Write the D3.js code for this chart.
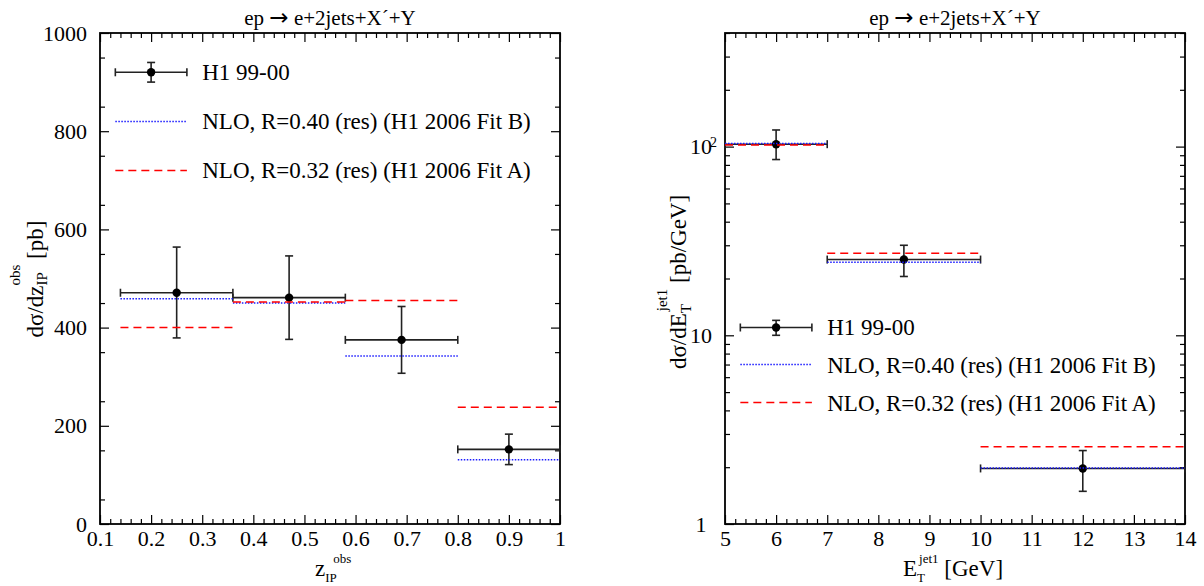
<!DOCTYPE html>
<html>
<head>
<meta charset="utf-8">
<script src="https://cdn.jsdelivr.net/npm/d3@7"></script>
<style>
  body { margin: 0; background: #fff; }
  svg { display: block; }
</style>
</head>
<body>
<div id="chart"></div>
<script>
// ---- left panel: d(sigma)/dz_IP ----
const zBinLo  = [0.14, 0.36, 0.58, 0.80];
const zBinHi  = [0.36, 0.58, 0.80, 1.00];
const zCenter = [0.25, 0.47, 0.69, 0.90];
const zData   = [471, 461, 375, 152];
const zErrHi  = [564, 546, 443, 183];
const zErrLo  = [379, 376, 307, 121];
const zFitB   = [459, 450, 342, 131];   // NLO R=0.40, blue dotted
const zFitA   = [400, 452, 455, 238];   // NLO R=0.32, red dashed
const zTicks  = [0.1, 0.2, 0.3, 0.4, 0.5, 0.6, 0.7, 0.8, 0.9, 1.0];
const zTickLabels = ['0.1', '0.2', '0.3', '0.4', '0.5', '0.6', '0.7', '0.8', '0.9', '1'];
const zYTicks = [0, 200, 400, 600, 800, 1000];

// ---- right panel: d(sigma)/dE_T ----
const etBinLo  = [5, 7, 10];
const etBinHi  = [7, 10, 14];
const etCenter = [6, 8.5, 12];
const etData   = [103, 25.2, 1.97];
const etErrHi  = [122.5, 30, 2.45];
const etErrLo  = [85.4, 20.5, 1.49];
const etFitB   = [104, 24.4, 1.98];
const etFitA   = [102, 27.2, 2.57];
const etTicks  = [5, 6, 7, 8, 9, 10, 11, 12, 13, 14];
const etYTicks = [1, 10, 100];

const legendLabels = ['H1 99-00', 'NLO, R=0.40 (res) (H1 2006 Fit B)', 'NLO, R=0.32 (res) (H1 2006 Fit A)'];
const titleParts = ['ep ', '\u2192', ' e+2jets+X\u00b4+Y'];

const FONT = '"Liberation Serif", "Times New Roman", Times, serif';
const W = 1204, H = 586;
const plotTop = 33, plotH = 491, plotW = 460;

const svg = d3.select('#chart').append('svg')
    .attr('width', W)
    .attr('height', H)
    .style('font-family', FONT);

// ticks on all four sides pointing inward, frame around
function frameAxes(g, x, y, o) {
    const maj = 9, min = 5;
    const axes = [
        [d3.axisBottom(x).tickValues(o.xMajor).tickSize(-maj).tickPadding(6).tickFormat(o.xFmt), `translate(0,${plotH})`],
        [d3.axisBottom(x).tickValues(o.xMinor).tickSize(-min).tickFormat(''), `translate(0,${plotH})`],
        [d3.axisTop(x).tickValues(o.xMajor).tickSize(-maj).tickFormat(''), null],
        [d3.axisTop(x).tickValues(o.xMinor).tickSize(-min).tickFormat(''), null],
        [d3.axisLeft(y).tickValues(o.yMajor).tickSize(-maj).tickPadding(13).tickFormat(o.yFmt), null],
        [d3.axisLeft(y).tickValues(o.yMinor).tickSize(-min).tickFormat(''), null],
        [d3.axisRight(y).tickValues(o.yMajor).tickSize(-maj).tickFormat(''), `translate(${plotW},0)`],
        [d3.axisRight(y).tickValues(o.yMinor).tickSize(-min).tickFormat(''), `translate(${plotW},0)`]
    ];
    const out = [];
    axes.forEach(([ax, tr]) => {
        const a = g.append('g').call(ax)
            .attr('font-family', FONT)
            .attr('font-size', 22)
            .attr('color', '#000');
        if (tr) a.attr('transform', tr);
        a.select('.domain').remove();
        a.selectAll('.tick line').attr('stroke-width', 1.2);
        out.push(a);
    });
    g.append('rect')
        .attr('width', plotW).attr('height', plotH)
        .attr('fill', 'none').attr('stroke', '#000').attr('stroke-width', 1.8);
    return out;
}

function drawPoint(g, x, y, xl, xh, xc, v, eh, el) {
    const c = '#222', cap = 4;
    g.append('line').attr('x1', x(xl)).attr('x2', x(xh)).attr('y1', y(v)).attr('y2', y(v))
        .attr('stroke', c).attr('stroke-width', 1.6);
    [xl, xh].forEach(e => g.append('line')
        .attr('x1', x(e)).attr('x2', x(e)).attr('y1', y(v) - cap).attr('y2', y(v) + cap)
        .attr('stroke', c).attr('stroke-width', 1.6));
    g.append('line').attr('x1', x(xc)).attr('x2', x(xc)).attr('y1', y(eh)).attr('y2', y(el))
        .attr('stroke', c).attr('stroke-width', 1.6);
    [eh, el].forEach(e => g.append('line')
        .attr('x1', x(xc) - cap).attr('x2', x(xc) + cap).attr('y1', y(e)).attr('y2', y(e))
        .attr('stroke', c).attr('stroke-width', 1.6));
    g.append('circle').attr('cx', x(xc)).attr('cy', y(v)).attr('r', 4.2).attr('fill', '#000');
}

const styleB = {stroke: '#1a1aff', dash: '1.5,1.5'};
const styleA = {stroke: '#ff0000', dash: '8,5'};

function drawFit(g, x, y, lo, hi, vals, s) {
    g.selectAll(null).data(vals).enter().append('line')
        .attr('x1', (d, i) => x(lo[i])).attr('x2', (d, i) => x(hi[i]))
        .attr('y1', d => y(d)).attr('y2', d => y(d))
        .attr('stroke', s.stroke).attr('stroke-width', 1.5)
        .attr('stroke-dasharray', s.dash);
}

function drawLegend(g, x, y, o) {
    drawPoint(g, x, y, o.x0, o.x1, o.xm, o.ys[0], o.err[0], o.err[1]);
    [styleB, styleA].forEach((s, i) => {
        g.append('line').attr('x1', x(o.x0)).attr('x2', x(o.x1))
            .attr('y1', y(o.ys[i + 1])).attr('y2', y(o.ys[i + 1]))
            .attr('stroke', s.stroke).attr('stroke-width', 1.5).attr('stroke-dasharray', s.dash);
    });
    legendLabels.forEach((t, i) => {
        g.append('text').attr('x', x(o.xt)).attr('y', y(o.ys[i]) + 8)
            .attr('font-size', 23).text(t);
    });
}

function drawTitle(g) {
    const t = g.append('text').attr('x', plotW / 2).attr('y', -8)
        .attr('text-anchor', 'middle').attr('font-size', 21);
    t.append('tspan').text(titleParts[0]);
    t.append('tspan').attr('font-family', '"DejaVu Sans", sans-serif').attr('font-size', 23).text(titleParts[1]);
    t.append('tspan').text(titleParts[2]);
}

// ===== left panel =====
const gL = svg.append('g').attr('transform', `translate(100,${plotTop})`);
const xL = d3.scaleLinear().domain([0.1, 1]).range([0, plotW]);
const yL = d3.scaleLinear().domain([0, 1000]).range([plotH, 0]);

frameAxes(gL, xL, yL, {
    xMajor: zTicks,
    xMinor: d3.range(5, 51).map(i => i * 0.02).filter(v => Math.abs(v * 10 - Math.round(v * 10)) > 1e-6),
    xFmt: (d, i) => zTickLabels[i],
    yMajor: zYTicks,
    yMinor: d3.range(50, 1000, 100),
    yFmt: d => d
});

zData.forEach((v, i) => drawPoint(gL, xL, yL, zBinLo[i], zBinHi[i], zCenter[i], v, zErrHi[i], zErrLo[i]));
drawFit(gL, xL, yL, zBinLo, zBinHi, zFitB, styleB);
drawFit(gL, xL, yL, zBinLo, zBinHi, zFitA, styleA);
drawLegend(gL, xL, yL, {x0: 0.13, x1: 0.27, xm: 0.2, xt: 0.3, ys: [920, 820, 720], err: [940, 900]});
drawTitle(gL);

// ===== right panel =====
const gR = svg.append('g').attr('transform', `translate(725,${plotTop})`);
const xR = d3.scaleLinear().domain([5, 14]).range([0, plotW]);
const yR = d3.scaleLog().domain([1, 400]).range([plotH, 0]);

const logMinor = [];
[1, 10, 100].forEach(p => d3.range(2, 10).forEach(m => { if (m * p <= 400) logMinor.push(m * p); }));

const axR = frameAxes(gR, xR, yR, {
    xMajor: etTicks,
    xMinor: d3.range(25, 71).map(i => i * 0.2).filter(v => Math.abs(v - Math.round(v)) > 1e-6),
    xFmt: d => d,
    yMajor: etYTicks,
    yMinor: logMinor,
    yFmt: d => d === 100 ? '10' : String(d)
});
// log labels are centred and 10^2 gets a superscript
axR[4].selectAll('.tick text').attr('text-anchor', 'middle').attr('x', -24);
axR[4].selectAll('.tick').filter(d => d === 100).append('text')
    .attr('x', -8).attr('y', 0).attr('font-size', 14).attr('fill', '#000').text('2');

etData.forEach((v, i) => drawPoint(gR, xR, yR, etBinLo[i], etBinHi[i], etCenter[i], v, etErrHi[i], etErrLo[i]));
drawFit(gR, xR, yR, etBinLo, etBinHi, etFitB, styleB);
drawFit(gR, xR, yR, etBinLo, etBinHi, etFitA, styleA);
drawLegend(gR, xR, yR, {x0: 5.3, x1: 6.7, xm: 6, xt: 7, ys: [11, 7, 4.4], err: [12, 10]});
drawTitle(gR);

// ===== axis titles =====
function stackedScripts(text, sub, sup, subDy, supDy, shift, size) {
    const s1 = text.append('tspan').attr('font-size', size).attr('dy', subDy).text(sub);
    const s2 = text.append('tspan').attr('font-size', size).attr('dy', supDy - subDy).text(sup);
    s2.attr('dx', -s1.node().getComputedTextLength() + shift);
    return -supDy;
}

// left y title
const lyt = svg.append('text').attr('transform', 'translate(43,279) rotate(-90)')
    .attr('text-anchor', 'middle').attr('font-size', 23);
lyt.append('tspan').text('d\u03c3/dz');
let back = stackedScripts(lyt, 'IP', 'obs', 4, -23, 0, 15);
lyt.append('tspan').attr('dy', back).text(' [pb]');

// right y title
const ryt = svg.append('text').attr('transform', 'translate(686,282) rotate(-90)')
    .attr('text-anchor', 'middle').attr('font-size', 23);
ryt.append('tspan').text('d\u03c3/dE');
back = stackedScripts(ryt, 'T', 'jet1', 5, -19, 2, 15);
ryt.append('tspan').attr('dy', back).text(' [pb/GeV]');

// left x title
const lxt = svg.append('text').attr('x', 315).attr('y', 576).attr('font-size', 23);
lxt.append('tspan').text('z');
stackedScripts(lxt, 'IP', 'obs', 6, -13, 8, 13);

// right x title
const rxt = svg.append('text').attr('x', 903).attr('y', 576).attr('font-size', 23);
rxt.append('tspan').text('E');
back = stackedScripts(rxt, 'T', 'jet1', 6, -13, 2, 13);
rxt.append('tspan').attr('dy', back).text(' [GeV]');
</script>
</body>
</html>
